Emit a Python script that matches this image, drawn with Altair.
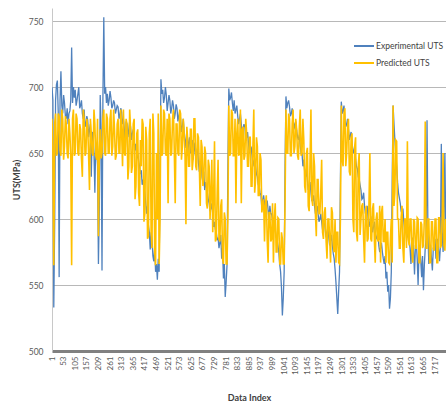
import altair as alt
import pandas as pd

# Data index of each plotted sample (every 4th index of the record)
data_index = list(range(1, 1766, 4))

experimental_uts = [
    700, 690, 533, 598, 690, 702, 705, 680, 556, 690, 712, 686, 680, 694, 688, 678, 676, 684, 672, 680,
    682, 690, 730, 688, 700, 692, 698, 686, 690, 695, 700, 684, 686, 690, 680, 676, 683, 670, 672, 678,
    675, 662, 668, 672, 632, 666, 664, 650, 620, 658, 655, 640, 566, 610, 694, 668, 561, 690, 753, 695,
    700, 688, 695, 686, 690, 697, 692, 684, 686, 690, 688, 680, 683, 686, 685, 676, 679, 684, 681, 672,
    676, 668, 650, 674, 672, 662, 668, 674, 670, 660, 665, 668, 660, 652, 657, 646, 650, 644, 640, 634,
    637, 626, 630, 624, 620, 612, 604, 610, 595, 590, 577, 590, 585, 572, 568, 578, 560, 566, 554, 570,
    560, 640, 706, 695, 698, 688, 692, 700, 694, 682, 688, 694, 690, 680, 684, 690, 686, 676, 680, 687,
    684, 674, 678, 682, 676, 666, 670, 676, 665, 654, 660, 667, 648, 658, 662, 650, 655, 660, 645, 652,
    658, 646, 650, 654, 643, 636, 640, 644, 632, 628, 636, 622, 628, 624, 620, 615, 612, 606, 608, 612,
    604, 594, 598, 592, 590, 584, 586, 578, 582, 588, 570, 578, 555, 566, 541, 552, 565, 640, 699, 690,
    692, 696, 688, 682, 690, 680, 683, 686, 678, 672, 676, 680, 672, 664, 668, 672, 670, 660, 662, 666,
    658, 650, 652, 655, 648, 640, 644, 646, 640, 634, 632, 626, 625, 620, 618, 608, 615, 618, 612, 606,
    610, 614, 607, 600, 610, 604, 604, 598, 600, 594, 592, 586, 585, 580, 575, 566, 560, 548, 527, 540,
    560, 640, 693, 684, 688, 690, 685, 678, 680, 684, 676, 668, 672, 674, 667, 662, 660, 664, 655, 650,
    650, 640, 645, 636, 632, 638, 630, 622, 625, 628, 620, 614, 614, 618, 610, 604, 606, 610, 604, 598,
    600, 604, 598, 592, 596, 600, 592, 586, 590, 594, 586, 580, 584, 588, 580, 574, 570, 562, 552, 540,
    528, 545, 560, 630, 689, 680, 682, 686, 676, 670, 672, 676, 668, 660, 663, 666, 658, 652, 650, 655,
    645, 640, 638, 632, 630, 626, 622, 615, 616, 620, 610, 604, 606, 610, 600, 594, 598, 602, 596, 590,
    594, 598, 590, 586, 585, 590, 580, 575, 578, 582, 575, 570, 566, 572, 555, 560, 545, 550, 532, 540,
    560, 630, 686, 672, 660, 650, 640, 628, 620, 616, 612, 606, 604, 608, 598, 590, 592, 596, 586, 590,
    584, 578, 566, 582, 586, 575, 558, 580, 582, 570, 550, 575, 580, 568, 556, 572, 546, 565, 578, 585,
    675, 590, 566, 580, 580, 570, 561, 578, 578, 585, 570, 582, 585, 576, 568, 580, 657, 590, 575, 600,
    650, 590,
]

predicted_uts = [
    676, 650, 565, 672, 680, 648, 650, 680, 678, 652, 648, 683, 676, 645, 655, 678, 672, 650, 646, 676,
    665, 648, 565, 676, 683, 648, 650, 680, 676, 650, 648, 672, 668, 646, 632, 683, 676, 648, 650, 676,
    670, 648, 622, 676, 665, 650, 648, 683, 672, 648, 645, 676, 587, 650, 668, 646, 650, 676, 683, 650,
    648, 680, 676, 650, 650, 676, 683, 648, 655, 683, 668, 645, 648, 672, 676, 650, 650, 683, 665, 640,
    683, 650, 648, 676, 672, 630, 640, 683, 668, 635, 640, 672, 676, 615, 625, 665, 668, 620, 610, 660,
    640, 676, 672, 598, 604, 670, 660, 585, 587, 665, 676, 590, 578, 680, 665, 575, 565, 650, 600, 680,
    566, 600, 686, 648, 650, 683, 680, 650, 648, 676, 612, 680, 676, 648, 650, 676, 683, 650, 612, 672,
    672, 650, 648, 683, 680, 645, 655, 676, 665, 648, 596, 670, 660, 640, 640, 668, 668, 637, 645, 676,
    676, 640, 637, 665, 662, 640, 610, 660, 655, 625, 630, 655, 650, 612, 608, 645, 640, 600, 620, 645,
    590, 615, 659, 583, 585, 620, 645, 585, 583, 610, 615, 570, 566, 605, 600, 566, 566, 600, 686, 648,
    650, 683, 680, 648, 648, 676, 612, 665, 676, 648, 650, 683, 612, 668, 670, 645, 648, 676, 665, 640,
    640, 662, 662, 625, 625, 655, 683, 620, 630, 662, 655, 618, 618, 650, 645, 605, 610, 615, 583, 610,
    618, 585, 567, 605, 605, 583, 585, 612, 567, 600, 612, 575, 575, 601, 600, 566, 566, 590, 585, 566,
    566, 612, 683, 650, 650, 680, 676, 648, 648, 672, 683, 650, 655, 676, 668, 648, 645, 670, 683, 648,
    650, 676, 660, 625, 620, 650, 654, 610, 606, 645, 683, 615, 610, 650, 640, 604, 587, 630, 630, 604,
    604, 620, 645, 590, 585, 605, 609, 583, 570, 600, 600, 585, 567, 609, 605, 580, 575, 600, 567, 590,
    590, 567, 566, 600, 686, 645, 640, 680, 684, 640, 650, 670, 676, 636, 633, 662, 665, 600, 590, 655,
    662, 590, 583, 640, 650, 588, 600, 610, 612, 585, 567, 605, 610, 583, 585, 612, 650, 585, 583, 608,
    612, 585, 567, 600, 605, 583, 585, 610, 567, 605, 610, 583, 583, 600, 567, 590, 590, 567, 566, 585,
    600, 567, 686, 610, 620, 660, 659, 600, 600, 578, 578, 601, 610, 578, 567, 600, 600, 578, 659, 585,
    580, 600, 600, 576, 567, 600, 598, 578, 578, 601, 600, 567, 567, 598, 596, 578, 580, 600, 674, 578,
    578, 600, 600, 567, 567, 598, 598, 578, 576, 600, 600, 567, 567, 601, 601, 578, 580, 600, 650, 580,
    576, 600,
]

series_names = ["Experimental UTS", "Predicted UTS"]
series_colors = ["#4F81BD", "#FFC000"]

x_tick_labels = [1, 53, 105, 157, 209, 261, 313, 365, 417, 469, 521, 573, 625,
                 677, 729, 781, 833, 885, 937, 989, 1041, 1093, 1145, 1197,
                 1249, 1301, 1353, 1405, 1457, 1509, 1561, 1613, 1665, 1717]
y_tick_labels = [500, 550, 600, 650, 700, 750]

df = pd.DataFrame({
    "idx": data_index,
    series_names[0]: experimental_uts,
    series_names[1]: predicted_uts,
})
long_df = df.melt("idx", var_name="series", value_name="uts")

FONT = "Lato"

color = alt.Color(
    "series:N",
    scale=alt.Scale(domain=series_names, range=series_colors),
    legend=alt.Legend(
        title=None,
        orient="none",
        legendX=301,
        legendY=27,
        symbolType="stroke",
        symbolSize=400,
        symbolStrokeWidth=2,
        labelFontSize=8.5,
        labelFont=FONT,
        labelColor="#404040",
        labelOffset=1,
        rowPadding=1,
        padding=0,
    ),
)

x = alt.X(
    "idx:Q",
    scale=alt.Scale(domain=[1, 1766], nice=False, zero=False),
    axis=alt.Axis(
        values=x_tick_labels,
        format="d",
        labelAngle=-90,
        labelAlign="right",
        labelBaseline="middle",
        labelFontSize=8,
        labelFont=FONT,
        labelColor="#595959",
        labelPadding=5,
        labelOverlap=False,
        labelFlush=False,
        ticks=False,
        grid=False,
        domainColor="#808080",
        domainWidth=3,
        title="Data Index",
        titleFont=FONT,
        titleFontSize=9,
        titleFontWeight="bold",
        titleColor="#404040",
        titleY=46,
        titleBaseline="middle",
    ),
)

y = alt.Y(
    "uts:Q",
    scale=alt.Scale(domain=[500, 760], nice=False, zero=False),
    axis=alt.Axis(
        values=y_tick_labels,
        labelFontSize=8.5,
        labelFont=FONT,
        labelColor="#595959",
        labelPadding=9,
        ticks=False,
        grid=True,
        gridColor="#b8b8b8",
        gridWidth=1,
        domainColor="#c8c8c8",
        domainWidth=1,
        title="UTS(MPa)",
        titleFont=FONT,
        titleFontSize=9,
        titleFontWeight="bold",
        titleColor="#404040",
        titleX=-36,
        titleY=171.5,
        titleAngle=-90,
        titleAlign="center",
        titleBaseline="middle",
    ),
)

base = alt.Chart(long_df).encode(x=x, y=y, color=color)
blue = base.mark_line(strokeWidth=1.3, clip=True).transform_filter(
    alt.datum.series == series_names[0]
)
gold = base.mark_line(strokeWidth=1.6, clip=True).transform_filter(
    alt.datum.series == series_names[1]
)

chart = (
    alt.layer(blue, gold)
    .properties(
        width=394,
        height=343,
        autosize=alt.AutoSizeParams(type="none"),
        padding={"left": 52, "top": 8, "right": 0, "bottom": 53},
        background="white",
    )
    .configure_view(strokeWidth=0)
)

chart.save("out.html", embed_options={"renderer": "svg", "actions": False})
